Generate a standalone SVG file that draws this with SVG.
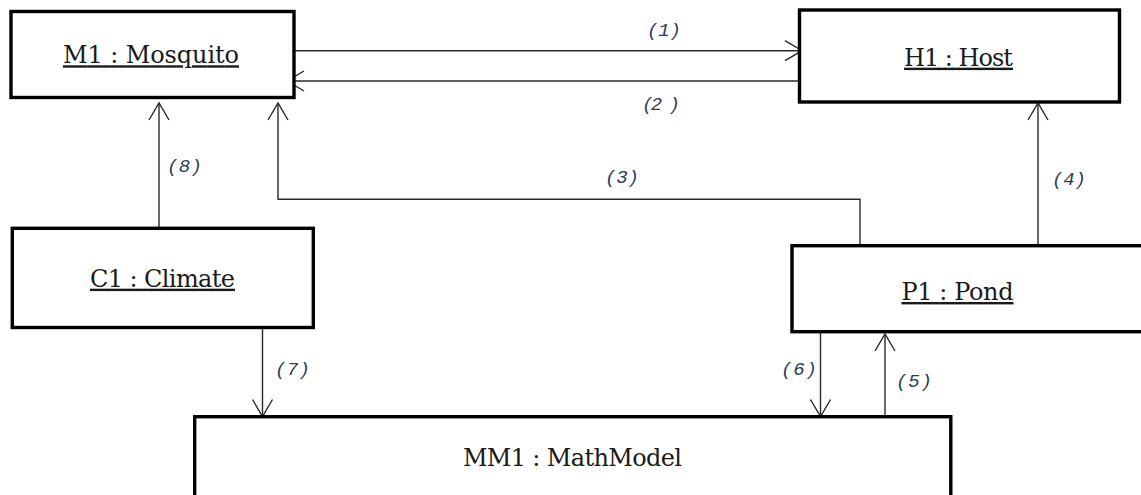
<svg xmlns="http://www.w3.org/2000/svg" width="1141" height="495" viewBox="0 0 1141 495">
<style>
.box{fill:#fff;stroke:#000;stroke-width:3.4}
.name{font-family:"DejaVu Serif","Liberation Serif",serif;font-size:24px;fill:#1a1a1a;text-anchor:middle}
.ul{text-decoration:underline}
.conn{fill:none;stroke:#2a2a2a;stroke-width:1.4}
.lbl{font-family:"Liberation Mono","DejaVu Sans Mono",monospace;font-style:italic;font-size:19px;fill:#2c3b57}
</style>
<defs>
<marker id="arr" markerUnits="userSpaceOnUse" markerWidth="40" markerHeight="40" viewBox="-20 -20 40 40" refX="0" refY="0" orient="auto">
<path d="M-17,-10 L0,0 L-17,10" fill="none" stroke="#2a2a2a" stroke-width="1.4"/>
</marker>
</defs>
<g id="connectors">
<line class="conn" x1="295" y1="50.7" x2="802" y2="50.7" marker-end="url(#arr)"/>
<line class="conn" x1="799" y1="81" x2="287" y2="81" marker-end="url(#arr)"/>
<line class="conn" x1="159" y1="227" x2="159" y2="103" marker-end="url(#arr)"/>
<polyline class="conn" points="860,246 860,199.3 278,199.3 278,103" marker-end="url(#arr)"/>
<line class="conn" x1="1038" y1="245" x2="1038" y2="103" marker-end="url(#arr)"/>
<line class="conn" x1="262.5" y1="323" x2="262.5" y2="416.5" marker-end="url(#arr)"/>
<line class="conn" x1="820.5" y1="332" x2="820.5" y2="416.5" marker-end="url(#arr)"/>
<line class="conn" x1="885" y1="420" x2="885" y2="334" marker-end="url(#arr)"/>
<text class="lbl" x="647" y="36" textLength="34">(1)</text>
<text class="lbl" x="642" y="110" textLength="38">(2 )</text>
<text class="lbl" x="167" y="172" textLength="35">(8)</text>
<text class="lbl" x="605" y="183" textLength="34">(3)</text>
<text class="lbl" x="1052" y="185" textLength="34">(4)</text>
<text class="lbl" x="275" y="375" textLength="35">(7)</text>
<text class="lbl" x="781" y="375" textLength="36">(6)</text>
<text class="lbl" x="896" y="387" textLength="36">(5)</text>
</g>
<g id="M1">
<rect class="box" x="11" y="11.5" width="283" height="86"/>
<text class="name ul" x="151" y="63.3" textLength="176" lengthAdjust="spacing">M1 : Mosquito</text>
</g>
<g id="H1">
<rect class="box" x="799.5" y="10" width="320" height="92"/>
<text class="name ul" x="958.5" y="65.7" textLength="109" lengthAdjust="spacing">H1 : Host</text>
</g>
<g id="C1">
<rect class="box" x="12.3" y="228.3" width="301" height="99.2"/>
<text class="name ul" x="162.5" y="286.7" textLength="145" lengthAdjust="spacing">C1 : Climate</text>
</g>
<g id="P1">
<rect class="box" x="792" y="245.7" width="360" height="86"/>
<text class="name ul" x="957.5" y="300" textLength="112" lengthAdjust="spacing">P1 : Pond</text>
</g>
<g id="MM1">
<rect class="box" x="194.7" y="416.7" width="756.1" height="100"/>
<text class="name" x="572.4" y="465.7" textLength="219" lengthAdjust="spacing">MM1 : MathModel</text>
</g>
</svg>
